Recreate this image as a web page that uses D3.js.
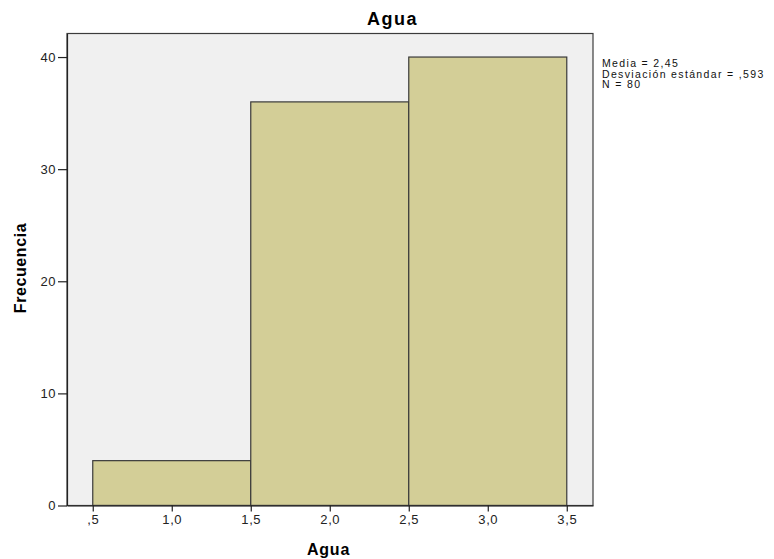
<!DOCTYPE html>
<html>
<head>
<meta charset="utf-8">
<script src="https://cdn.jsdelivr.net/npm/d3@7"></script>
<style>
  html, body { margin: 0; padding: 0; background: #ffffff; }
  svg { display: block; font-family: "Liberation Sans", Arial, sans-serif; }
</style>
</head>
<body>
<svg id="chart" width="774" height="559"></svg>
<script>
// ---- data ----
const binStarts = [0.5, 1.5, 2.5];
const binEnds = [1.5, 2.5, 3.5];
const frequencies = [4, 36, 40];
const xTickValues = [0.5, 1.0, 1.5, 2.0, 2.5, 3.0, 3.5];
const xTickLabels = [",5", "1,0", "1,5", "2,0", "2,5", "3,0", "3,5"];
const yTickValues = [0, 10, 20, 30, 40];
const yTickLabels = ["0", "10", "20", "30", "40"];
const titleText = "Agua";
const xLabel = "Agua";
const yLabel = "Frecuencia";
const statsLines = ["Media = 2,45", "Desviación estándar = ,593", "N = 80"];

// ---- layout ----
const plot = { left: 67, right: 593, top: 33.5, bottom: 505.5 };
const svg = d3.select("#chart");

const x = d3.scaleLinear().domain([0.337, 3.666]).range([plot.left, plot.right]);
const y = d3.scaleLinear().domain([0, 42.1]).range([plot.bottom, plot.top]);

// background
svg.append("rect")
  .attr("x", plot.left).attr("y", plot.top)
  .attr("width", plot.right - plot.left).attr("height", plot.bottom - plot.top)
  .attr("fill", "#f0f0f0");

// bars
const bins = frequencies.map((f, i) => ({ x0: binStarts[i], x1: binEnds[i], f }));
svg.append("g").selectAll("rect").data(bins).join("rect")
  .attr("x", d => x(d.x0))
  .attr("y", d => y(d.f))
  .attr("width", d => x(d.x1) - x(d.x0))
  .attr("height", d => y(0) - y(d.f))
  .attr("fill", "#d3ce97")
  .attr("stroke", "#3a3a3a")
  .attr("stroke-width", 1.2);

// frame
svg.append("rect")
  .attr("x", plot.left).attr("y", plot.top)
  .attr("width", plot.right - plot.left).attr("height", plot.bottom - plot.top)
  .attr("fill", "none")
  .attr("stroke", "#3c3c3c")
  .attr("stroke-width", 1.2);

// y axis
const yAxis = d3.axisLeft(y)
  .tickValues(yTickValues)
  .tickFormat((d, i) => yTickLabels[i])
  .tickSize(9).tickSizeOuter(0).tickPadding(2);
const gy = svg.append("g").attr("transform", `translate(${plot.left},0)`).call(yAxis);
gy.select(".domain").attr("stroke", "#222").attr("stroke-width", 1.2);
gy.selectAll(".tick line").attr("stroke", "#222").attr("stroke-width", 1.2);
gy.selectAll(".tick text")
  .attr("font-size", 13).attr("fill", "#222")
  .attr("letter-spacing", 0.5)
  .attr("font-family", "'Liberation Sans', Arial, sans-serif");

// x axis
const xAxis = d3.axisBottom(x)
  .tickValues(xTickValues)
  .tickFormat((d, i) => xTickLabels[i])
  .tickSize(6).tickSizeOuter(0).tickPadding(3);
const gx = svg.append("g").attr("transform", `translate(0,${plot.bottom})`).call(xAxis);
gx.select(".domain").attr("stroke", "#222").attr("stroke-width", 1.2);
gx.selectAll(".tick line").attr("stroke", "#222").attr("stroke-width", 1.2);
gx.selectAll(".tick text")
  .attr("font-size", 13).attr("fill", "#222")
  .attr("letter-spacing", 0.6)
  .attr("font-family", "'Liberation Sans', Arial, sans-serif");

// title
svg.append("text")
  .attr("x", 392.5).attr("y", 25)
  .attr("text-anchor", "middle")
  .attr("font-size", 18).attr("font-weight", "bold")
  .attr("letter-spacing", 1.5)
  .attr("fill", "#000")
  .text(titleText);

// x label
svg.append("text")
  .attr("x", (plot.left + plot.right) / 2 - 1.5).attr("y", 555)
  .attr("text-anchor", "middle")
  .attr("font-size", 16).attr("font-weight", "bold")
  .attr("letter-spacing", 0.8)
  .attr("fill", "#000")
  .text(xLabel);

// y label
svg.append("text")
  .attr("transform", "translate(25.5,268) rotate(-90)")
  .attr("text-anchor", "middle")
  .attr("font-size", 16).attr("font-weight", "bold")
  .attr("letter-spacing", 0.6)
  .attr("fill", "#000")
  .text(yLabel);

// stats annotation
svg.append("g").selectAll("text").data(statsLines).join("text")
  .attr("x", 602)
  .attr("y", (d, i) => 67 + i * 10.5)
  .attr("font-size", 10.5)
  .attr("letter-spacing", 1.35)
  .attr("fill", "#111")
  .text(d => d);
</script>
</body>
</html>
